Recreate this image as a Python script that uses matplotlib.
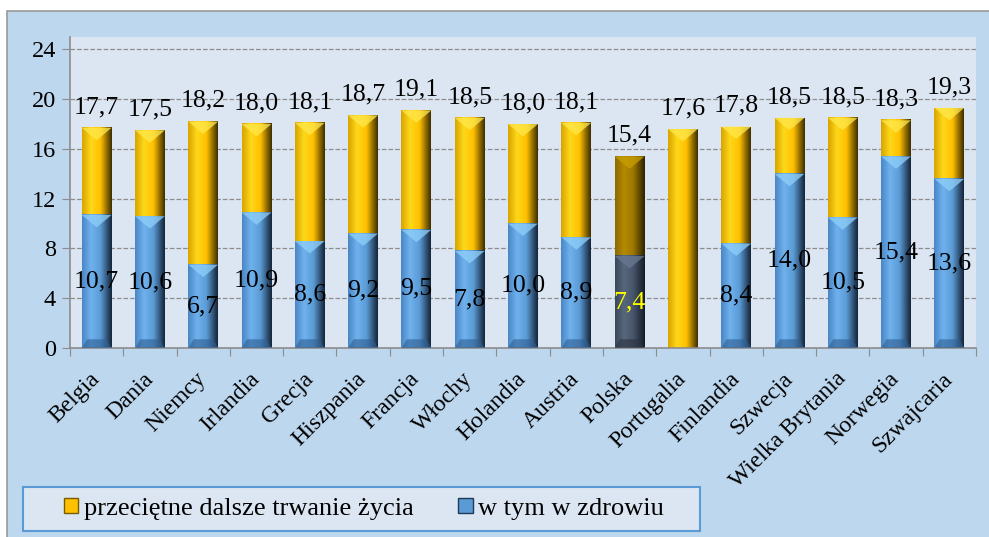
import numpy as np
import matplotlib
matplotlib.use('Agg')
import matplotlib.pyplot as plt
from matplotlib.patches import Rectangle, Polygon, Patch
from matplotlib.colors import LinearSegmentedColormap

countries = ['Belgia', 'Dania', 'Niemcy', 'Irlandia', 'Grecja', 'Hiszpania', 'Francja',
             'Włochy', 'Holandia', 'Austria', 'Polska', 'Portugalia', 'Finlandia',
             'Szwecja', 'Wielka Brytania', 'Norwegia', 'Szwajcaria']
total = [17.7, 17.5, 18.2, 18.0, 18.1, 18.7, 19.1, 18.5, 18.0, 18.1, 15.4, 17.6, 17.8,
         18.5, 18.5, 18.3, 19.3]
healthy = [10.7, 10.6, 6.7, 10.9, 8.6, 9.2, 9.5, 7.8, 10.0, 8.9, 7.4, 0.0, 8.4,
           14.0, 10.5, 15.4, 13.6]
highlight = 'Polska'

plt.rcParams['font.family'] = ['Liberation Serif', 'DejaVu Serif']

W, H = 989, 537
fig = plt.figure(figsize=(W / 100, H / 100), dpi=100, facecolor='white')

# outer light-blue frame
fig.patches.append(Rectangle((7 / W, -0.02), 1.05, (H - 11) / H + 0.02,
                             transform=fig.transFigure, facecolor='#bdd7ee',
                             edgecolor='#9a9a9a', lw=1.2, zorder=-2))

ax = fig.add_axes([70 / W, (H - 348) / H, (976 - 70) / W, (348 - 37) / H])
ax.set_facecolor('#dce6f2')

def cmap(cols):
    return LinearSegmentedColormap.from_list('c', list(zip([0, 0.3, 0.62, 1.0], cols)))

gold = cmap(['#d9a400', '#ffd81a', '#ffc000', '#3d2e00'])
blue = cmap(['#4a86c5', '#6fb2ee', '#5b9bd5', '#15253a'])
gold_dark = cmap(['#8a6a00', '#b58a00', '#9c7600', '#2e2300'])
blue_dark = cmap(['#3a475a', '#58677c', '#46546a', '#151c26'])

grad = np.linspace(0, 1, 64).reshape(1, -1)
bw = 0.56
depth = 1.0


def cyl(x, y0, y1, cm, top_col, bot_col=None):
    if y1 <= y0:
        return
    x0, x1 = x - bw / 2, x + bw / 2
    ax.imshow(grad, cmap=cm, extent=[x0, x1, y0, y1], aspect='auto', zorder=2,
              interpolation='bicubic')
    d = min(depth, (y1 - y0) / 2)
    ax.add_patch(Polygon([[x0, y1], [x1, y1], [x, y1 - d]], closed=True,
                         facecolor=top_col, edgecolor='none', alpha=0.75, zorder=3))
    if bot_col is not None:
        ax.add_patch(Polygon([[x0, y0], [x1, y0], [x1 - 0.1, y0 + 0.7], [x0 + 0.1, y0 + 0.7]],
                             closed=True, facecolor=bot_col, edgecolor='none', alpha=0.6,
                             zorder=3))


for i, (c, t, h) in enumerate(zip(countries, total, healthy)):
    dark = c == highlight
    cyl(i, h, t, gold_dark if dark else gold, '#c9a000' if dark else '#ffe94d')
    cyl(i, 0, h, blue_dark if dark else blue, '#6a7a90' if dark else '#8fd0fa',
        '#2a3342' if dark else '#2f5f93')
    ax.annotate(f'{t:.1f}'.replace('.', ','), (i, t), xytext=(0, 7),
                textcoords='offset points', ha='center', va='bottom', fontsize=18.5,
                zorder=5)
    if h > 0:
        ax.text(i, h / 2, f'{h:.1f}'.replace('.', ','), ha='center', va='center',
                fontsize=18.5, color='#ffff00' if dark else 'black', zorder=5)

ax.set_xlim(-0.5, len(countries) - 0.5)
ax.set_ylim(0, 25)
ax.set_yticks(np.arange(0, 25, 4))
ax.tick_params(axis='y', labelsize=17.5, length=6, color='#8c8c8c', pad=4)
ax.grid(axis='y', linestyle='--', color='#8c8c8c', lw=0.9)
ax.set_axisbelow(True)

ax.set_xticks(np.arange(len(countries) + 1) - 0.5)
ax.set_xticklabels([])
ax.tick_params(axis='x', which='major', length=6, color='#8c8c8c')
ax.set_xticks(np.arange(len(countries)), minor=True)
ax.set_xticklabels(countries, minor=True, rotation=45, ha='right', va='center',
                   rotation_mode='anchor', fontsize=17)
ax.tick_params(axis='x', which='minor', length=0, pad=20)

for s in ['top', 'right']:
    ax.spines[s].set_visible(False)
for s in ['left', 'bottom']:
    ax.spines[s].set_color('#8c8c8c')
    ax.spines[s].set_linewidth(1.2)

# legend box
fig.patches.append(Rectangle((23 / W, (H - 531) / H), (700 - 23) / W, 44 / H,
                             transform=fig.transFigure, facecolor='#dce6f2',
                             edgecolor='#5b9bd5', lw=1.5, zorder=-1))
handles = [Patch(facecolor='#ffc000', edgecolor='#7a5c00'),
           Patch(facecolor='#5b9bd5', edgecolor='#1f3a5a')]
fig.legend(handles, ['przeciętne dalsze trwanie życia', 'w tym w zdrowiu'],
           loc='center', bbox_to_anchor=(364 / W, (H - 509) / H), ncol=2, frameon=False,
           fontsize=19, handlelength=0.55, handleheight=0.5, handletextpad=0.2,
           columnspacing=1.7)

fig.savefig('out.png', dpi=100, facecolor='white')
